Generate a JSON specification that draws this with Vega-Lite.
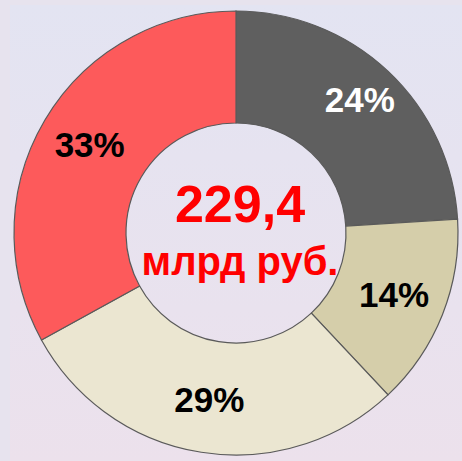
{
  "$schema": "https://vega.github.io/schema/vega-lite/v6.json",
  "width": 462,
  "height": 461,
  "autosize": {"type": "fit", "contains": "padding"},
  "padding": {"left": 10, "top": 5, "right": 0, "bottom": 0},
  "background": "#e7e3ee",
  "config": {"view": {"stroke": null}},
  "datasets": {
    "shares": [
      {"segment": "A", "share": 24, "order": 1, "label": "24%"},
      {"segment": "B", "share": 14, "order": 2, "label": "14%"},
      {"segment": "C", "share": 29, "order": 3, "label": "29%"},
      {"segment": "D", "share": 33, "order": 4, "label": "33%"}
    ]
  },
  "layer": [
    {
      "data": {"values": [{"bg": 1}]},
      "mark": {"type": "rect", "fill": {"gradient": "linear", "x1": 0, "y1": 0, "x2": 0, "y2": 1, "stops": [{"offset": 0, "color": "#e3e4f2"}, {"offset": 1, "color": "#ece1ec"}]}},
      "encoding": {}
    },
    {
      "data": {"name": "shares"},
      "mark": {"type": "arc", "outerRadius": 222, "innerRadius": 110, "stroke": "#5a5a5a", "strokeWidth": 1.2},
      "encoding": {
        "theta": {"field": "share", "type": "quantitative", "stack": true},
        "order": {"field": "order", "type": "quantitative"},
        "color": {"field": "segment", "type": "nominal", "legend": null, "scale": {"domain": ["A", "B", "C", "D"], "range": ["#5f5f5f", "#d5ceaa", "#ebe6d1", "#fd5a5b"]}}
      }
    },
    {
      "data": {"name": "shares"},
      "mark": {"type": "text", "radius": 181, "font": "Liberation Sans", "fontWeight": "bold", "fontSize": 35, "fill": "#ffffff"},
      "encoding": {
        "theta": {"field": "share", "type": "quantitative", "stack": true},
        "order": {"field": "order", "type": "quantitative"},
        "text": {"field": "label"},
        "opacity": {"condition": {"test": "datum.segment === 'A'", "value": 1}, "value": 0}
      }
    },
    {
      "data": {"name": "shares"},
      "mark": {"type": "text", "radius": 170, "font": "Liberation Sans", "fontWeight": "bold", "fontSize": 35, "fill": "#000000"},
      "encoding": {
        "theta": {"field": "share", "type": "quantitative", "stack": true},
        "order": {"field": "order", "type": "quantitative"},
        "text": {"field": "label"},
        "opacity": {"condition": {"test": "datum.segment === 'A'", "value": 0}, "value": 1}
      }
    },
    {
      "data": {"values": [{"total": "229,4", "unit": "млрд руб."}]},
      "layer": [
        {
          "mark": {"type": "text", "font": "Liberation Sans", "fontWeight": "bold", "fontSize": 52, "fill": "#ff0000", "baseline": "alphabetic", "dy": -11, "dx": 4},
          "encoding": {"text": {"field": "total"}}
        },
        {
          "mark": {"type": "text", "font": "Liberation Sans", "fontWeight": "bold", "fontSize": 40, "fill": "#ff0000", "baseline": "alphabetic", "dy": 42, "dx": 4},
          "encoding": {"text": {"field": "unit"}}
        }
      ]
    }
  ]
}
